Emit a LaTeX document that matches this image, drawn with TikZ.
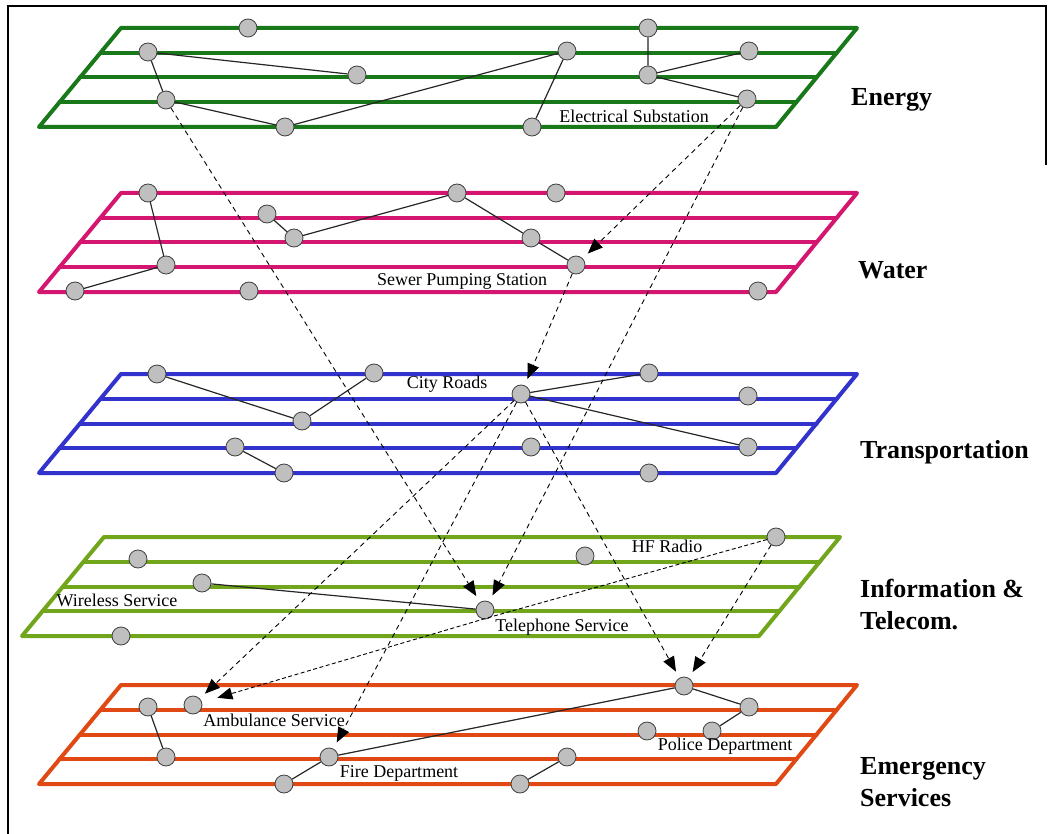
\documentclass[tikz,border=0pt]{standalone}
\usepackage{fontspec}
\setmainfont{Liberation Serif}
\usepackage{tikz}
\usetikzlibrary{arrows.meta}

\definecolor{energygreen}{RGB}{25,120,25}
\definecolor{watermagenta}{RGB}{212,22,112}
\definecolor{roadblue}{RGB}{50,50,205}
\definecolor{telegreen}{RGB}{112,165,28}
\definecolor{emergred}{RGB}{224,72,20}

\tikzset{
  plane/.style={line width=4pt, line join=round, line cap=round},
  asset/.style={circle, draw=black!75, fill=gray!50, line width=0.8pt,
    inner sep=0pt, minimum size=18pt},
  link/.style={black!85, line width=1.2pt},
  depend/.style={black, line width=0.9pt, dash pattern=on 5pt off 4pt,
    -{Triangle[length=15pt,width=12pt]}, shorten >=7pt},
  tag/.style={font=\fontsize{18}{20}\selectfont, inner sep=0pt},
  sector/.style={font=\fontsize{26}{32}\selectfont\bfseries, anchor=west,
    align=left, inner sep=0pt}
}

\begin{document}
\begin{tikzpicture}[x=1pt,y=-1pt]
  \useasboundingbox (0,0) rectangle (1054,834);
  \draw[line width=2pt] (1046,165) -- (1046,6) -- (8,6) -- (8,834);

  % the five planes
  \foreach \top/\sh/\col in {28/0/energygreen, 193/0/watermagenta,
      374/0/roadblue, 537/-17/telegreen, 685/0/emergred} {
    \draw[plane, draw=\col] ({121+\sh},\top) -- ({857+\sh},\top)
      -- ({776+\sh},{\top+99}) -- ({39+\sh},{\top+99}) -- cycle;
    \foreach \i in {1,2,3}
      \draw[plane, draw=\col] ({121+\sh-20.5*\i},{\top+24.75*\i})
        -- ({857+\sh-20.25*\i},{\top+24.75*\i});
  }

  % energy
  \node[asset] (e1) at (248,28) {};
  \node[asset] (e2) at (648,28) {};
  \node[asset] (e3) at (148,52) {};
  \node[asset] (e4) at (567,51) {};
  \node[asset] (e5) at (749,51) {};
  \node[asset] (e6) at (357,75) {};
  \node[asset] (e7) at (648,75) {};
  \node[asset] (e8) at (166,100) {};
  \node[asset] (esub) at (747,99) {};
  \node[asset] (e9) at (285,127) {};
  \node[asset] (e10) at (532,127) {};
  \node[tag] (esubl) at (634,116) {Electrical Substation};
  \node[sector] (energy) at (851,100) {Energy};
  \draw[link] (e3) -- (e6);
  \draw[link] (e3) -- (e8) -- (e9) -- (e4) -- (e10);
  \draw[link] (e2) -- (e7) -- (e5);
  \draw[link] (e7) -- (esub);

  % water
  \node[asset] (w1) at (148,193) {};
  \node[asset] (w2) at (457,193) {};
  \node[asset] (w3) at (556,193) {};
  \node[asset] (w4) at (267,214) {};
  \node[asset] (w5) at (294,238) {};
  \node[asset] (w6) at (531,238) {};
  \node[asset] (w7) at (166,265) {};
  \node[asset] (wpump) at (576,265) {};
  \node[asset] (w8) at (75,291) {};
  \node[asset] (w9) at (249,291) {};
  \node[asset] (w10) at (758,291) {};
  \node[tag] (wpumpl) at (462,281) {Sewer Pumping Station};
  \node[sector] (water) at (858,270) {Water};
  \draw[link] (w1) -- (w7) -- (w8);
  \draw[link] (w4) -- (w5) -- (w2) -- (w6) -- (wpump);

  % transportation
  \node[asset] (t1) at (157,374) {};
  \node[asset] (t2) at (374,373) {};
  \node[asset] (t3) at (649,373) {};
  \node[asset] (troad) at (521,394) {};
  \node[asset] (t4) at (748,396) {};
  \node[asset] (t5) at (302,421) {};
  \node[asset] (t6) at (235,447) {};
  \node[asset] (t7) at (531,447) {};
  \node[asset] (t8) at (748,447) {};
  \node[asset] (t9) at (284,473) {};
  \node[asset] (t10) at (649,473) {};
  \node[tag] (troadl) at (447,384) {City Roads};
  \node[sector] (transport) at (860,452) {Transportation};
  \draw[link] (t1) -- (t5) -- (t2);
  \draw[link] (t3) -- (troad) -- (t8);
  \draw[link] (t6) -- (t9);

  % information and telecom
  \node[asset] (ihf) at (776,537) {};
  \node[asset] (i1) at (138,559) {};
  \node[asset] (i2) at (585,556) {};
  \node[asset] (iwl) at (202,583) {};
  \node[asset] (itel) at (485,610) {};
  \node[asset] (i3) at (121,636) {};
  \node[tag] (ihfl) at (667,546) {HF Radio};
  \node[tag] (iwll) at (117,600) {Wireless Service};
  \node[tag] (itell) at (562,627) {Telephone Service};
  \node[sector] (telecom) at (860,605) {Information \&\\Telecom.};
  \draw[link] (iwl) -- (itel);

  % emergency services
  \node[asset] (mpol) at (684,686) {};
  \node[asset] (m1) at (148,707) {};
  \node[asset] (mamb) at (193,705) {};
  \node[asset] (m2) at (749,707) {};
  \node[asset] (m3) at (647,731) {};
  \node[asset] (m4) at (712,731) {};
  \node[asset] (m5) at (166,757) {};
  \node[asset] (mfire) at (329,757) {};
  \node[asset] (m6) at (567,757) {};
  \node[asset] (m7) at (284,784) {};
  \node[asset] (m8) at (520,784) {};
  \node[tag] (mambl) at (274,720) {Ambulance Service};
  \node[tag] (mpoll) at (725,746) {Police Department};
  \node[tag] (mfirel) at (399,773) {Fire Department};
  \node[sector] (emerg) at (860,782) {Emergency\\Services};
  \draw[link] (m1) -- (m5);
  \draw[link] (m2) -- (mpol) -- (mfire) -- (m7);
  \draw[link] (m2) -- (m4);
  \draw[link] (m6) -- (m8);

  % dependencies between the planes
  \draw[depend] (e8) -- (itel);
  \draw[depend] (esub) -- (itel);
  \draw[depend] (esub) -- (wpump);
  \draw[depend] (wpump) -- (troad);
  \draw[depend] (troad) -- (mamb);
  \draw[depend] (troad) -- (mfire);
  \draw[depend] (troad) -- (mpol);
  \draw[depend] (ihf) -- (mpol);
  \draw[depend, dash pattern=on 4pt off 2.5pt, shorten >=16pt]
    (ihf) -- (itel.south east) -- (mamb);
\end{tikzpicture}
\end{document}
